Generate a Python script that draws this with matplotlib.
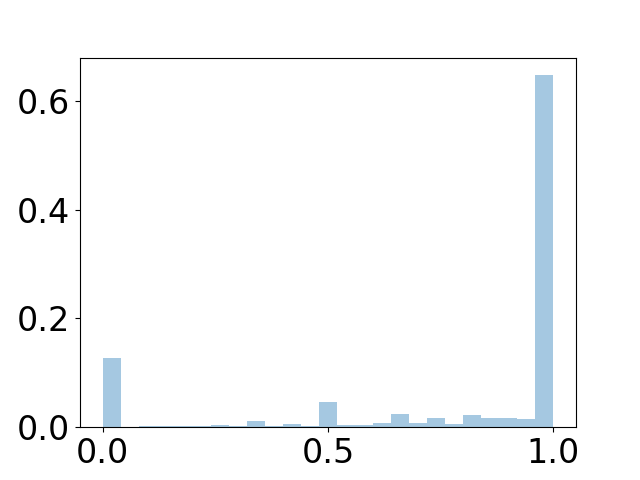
import numpy as np
from matplotlib import pyplot as plt

# 25 equal bins on [0, 1], bar heights (they add up to ~1)
bin_edges = np.linspace(0, 1, 26)
bin_heights = [0.127, 0.0, 0.0018, 0.0018, 0.0018, 0.0018, 0.0037, 0.0018,
               0.0117, 0.0018, 0.0055, 0.0018, 0.047, 0.0037, 0.0037, 0.0074,
               0.024, 0.0074, 0.0166, 0.0055, 0.022, 0.0166, 0.0166, 0.0147,
               0.647]
x_ticks = [0.0, 0.5, 1.0]

bin_centers = 0.5 * (bin_edges[:-1] + bin_edges[1:])

fig, ax = plt.subplots(figsize=(6.4, 4.8), dpi=100)
ax.hist(bin_centers, bins=bin_edges, weights=bin_heights, color='C0', alpha=0.4)
ax.set_xticks(x_ticks)
ax.tick_params(labelsize=24)

plt.savefig('out.png')
